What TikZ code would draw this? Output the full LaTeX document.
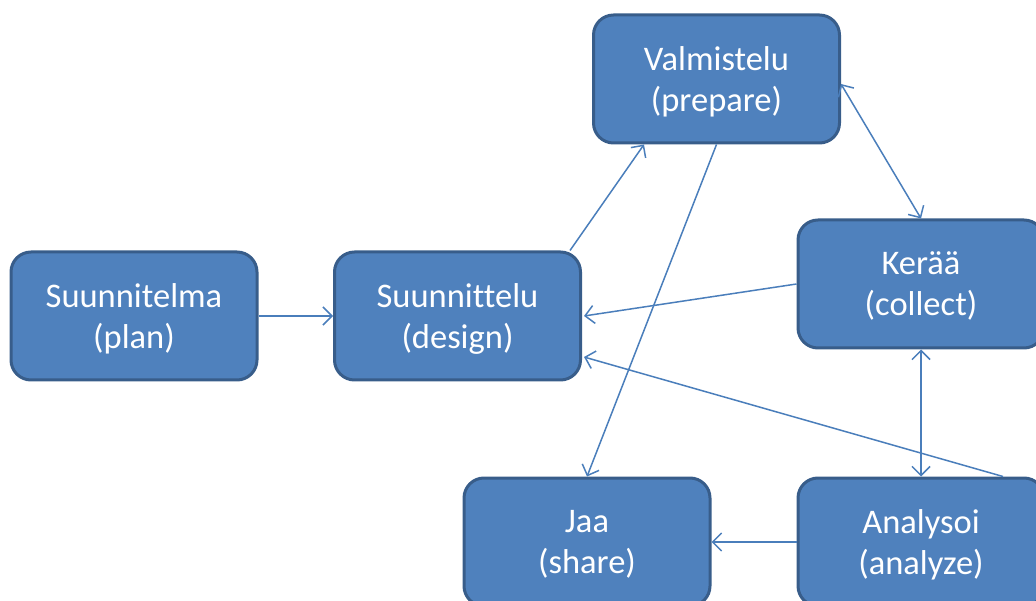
\documentclass[tikz,border=0pt]{standalone}
\usepackage{fontspec}
\setmainfont[Ligatures=NoCommon]{Carlito}
\usetikzlibrary{arrows.meta,calc}
\definecolor{boxfill}{HTML}{4F81BD}
\definecolor{boxline}{HTML}{385D8A}
\definecolor{linkcol}{HTML}{4A7EBB}
\tikzset{
  stagebox/.style={draw=boxline, fill=boxfill, line width=3pt, rounded corners=20pt,
    minimum width=246pt, minimum height=128pt, text=white, align=center,
    font=\fontsize{34.5}{41}\selectfont, inner sep=0pt, text depth=-4pt},
  link/.style={draw=linkcol, line width=1.5pt, -{Straight Barb[length=9pt,width=18pt]}},
  dlink/.style={draw=linkcol, line width=1.5pt, {Straight Barb[length=9pt,width=18pt]}-{Straight Barb[length=9pt,width=18pt]}}
}
\begin{document}
\begin{tikzpicture}[x=1pt,y=-1pt]
\useasboundingbox (0,0) rectangle (1036,601);
\clip (0,0) rectangle (1036,601);
\node[stagebox] (plan) at (134,316) {Suunnitelma\\(plan)};
\node[stagebox] (design) at (457.5,316) {Suunnittelu\\(design)};
\node[stagebox] (prepare) at (716.5,79) {Valmistelu\\(prepare)};
\node[stagebox] (collect) at (921,284) {Kerää\\(collect)};
\node[stagebox] (share) at (587,542) {Jaa\\(share)};
\node[stagebox] (analyze) at (921,542) {Analysoi\\(analyze)};
\draw[link] (plan.east) -- (design.west);
\draw[link] ([xshift=-12pt]design.north east) -- ([xshift=-72.5pt]prepare.south);
\draw[dlink] ([yshift=-5pt]prepare.east) -- (collect.north);
\draw[link] (collect.west) -- ([xshift=2pt]design.east);
\draw[link] (prepare.south) -- (share.north);
\draw[dlink] (collect.south) -- (analyze.north);
\draw[link] ([xshift=82pt]analyze.north) -- ([xshift=2pt,yshift=-41pt]design.east);
\draw[link] (analyze.west) -- (share.east);
\end{tikzpicture}
\end{document}
